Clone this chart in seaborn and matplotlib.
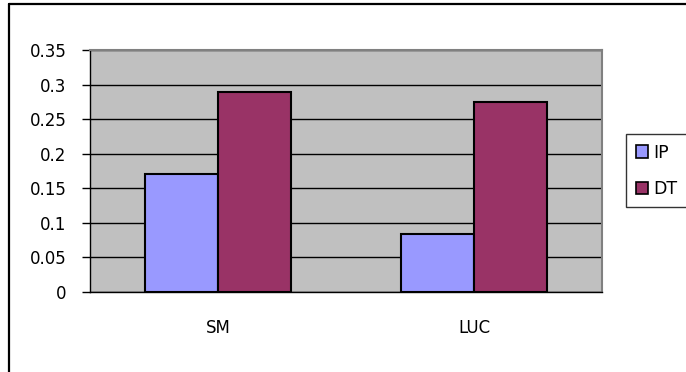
import matplotlib
matplotlib.use("Agg")
import matplotlib.pyplot as plt
from matplotlib.lines import Line2D
from matplotlib.ticker import FixedLocator
import seaborn as sns
import pandas as pd

# Data
groups = ["SM", "LUC"]
series = ["IP", "DT"]
ip_values = [0.17, 0.084]
dt_values = [0.289, 0.274]
y_ticks = [0, 0.05, 0.1, 0.15, 0.2, 0.25, 0.3, 0.35]
colors = ["#9999FF", "#993366"]

df = pd.DataFrame({
    "group": groups * 2,
    "series": [series[0]] * len(groups) + [series[1]] * len(groups),
    "value": ip_values + dt_values,
})

sns.set_style("white")
plt.rcParams["font.family"] = ["DejaVu Sans"]
plt.rcParams["text.color"] = "black"
plt.rcParams["xtick.color"] = "black"
plt.rcParams["ytick.color"] = "black"
plt.rcParams["xtick.labelcolor"] = "black"
plt.rcParams["ytick.labelcolor"] = "black"

W, H = 686, 372
fig = plt.figure(figsize=(W / 100, H / 100), dpi=100)
ax = fig.add_axes([90 / W, 1 - 291.7 / H, (602 - 90) / W, (291.7 - 50) / H])

sns.barplot(data=df, x="group", y="value", hue="series", order=groups,
            hue_order=series, palette=colors, width=0.57, edgecolor="black",
            linewidth=1.5, saturation=1, ax=ax, zorder=3, legend=True)

ax.set_facecolor("#C0C0C0")
ax.set_xlim(-0.5, 1.5)
ax.set_ylim(0, 0.35)
ax.yaxis.set_major_locator(FixedLocator(y_ticks))
ax.set_yticklabels([f"{v:g}" for v in y_ticks])
ax.grid(axis="y", color="black", linewidth=1, zorder=1)
ax.set_axisbelow(True)
ax.set_xlabel("")
ax.set_ylabel("")

# Category labels without ticks; ticks sit on category boundaries
ax.tick_params(axis="x", which="major", length=0, pad=20, labelsize=12)
ax.xaxis.set_minor_locator(FixedLocator([-0.5, 0.5, 1.5]))
ax.tick_params(axis="x", which="minor", length=7, width=1, color="black", direction="out")
ax.tick_params(axis="y", length=6, width=1, color="black", direction="out", pad=11,
               labelsize=12, left=True)

for side in ["left", "bottom"]:
    ax.spines[side].set_color("black")
    ax.spines[side].set_linewidth(1)
for side in ["top", "right"]:
    ax.spines[side].set_visible(True)
    ax.spines[side].set_color("#808080")
    ax.spines[side].set_linewidth(1.5)

# Legend box on the right
handles, labels = ax.get_legend_handles_labels()
ax.get_legend().remove()
for h in handles:
    h.set_edgecolor("black")
    h.set_linewidth(1.2)
leg = fig.legend(handles, labels, loc="upper left",
                 bbox_to_anchor=(626 / W, 1 - 134 / H), borderaxespad=0,
                 frameon=True, fancybox=False, edgecolor="black",
                 handlelength=0.7, handleheight=0.7, handletextpad=0.3,
                 labelspacing=1.05, fontsize=12.5, borderpad=0.55)
leg.get_frame().set_linewidth(1)

# Outer chart border
fig.add_artist(Line2D([8.5 / W, 8.5 / W], [0, 1 - 3.5 / H], color="black",
                      linewidth=1.6, transform=fig.transFigure))
fig.add_artist(Line2D([8.5 / W, 1], [1 - 3.5 / H, 1 - 3.5 / H], color="black",
                      linewidth=1.6, transform=fig.transFigure))

fig.savefig("out.png", dpi=100)
